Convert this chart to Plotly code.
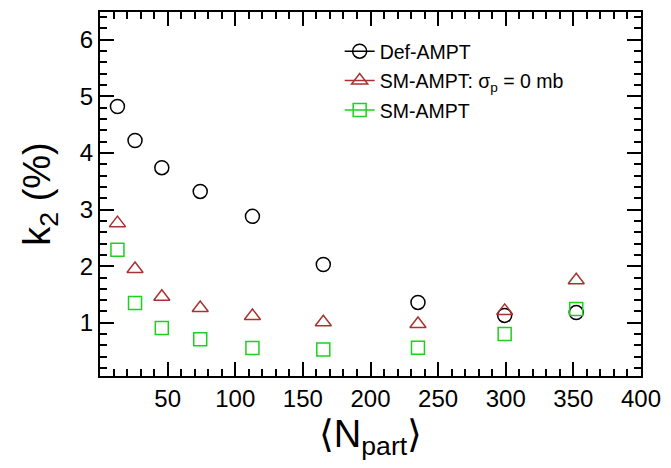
import plotly.graph_objects as go

npart = [12.9, 25.9, 45.7, 74.1, 112.7, 165.1, 235.1, 299.2, 352.1]
k2_def = [4.82, 4.22, 3.74, 3.32, 2.88, 2.03, 1.36, 1.13, 1.18]
k2_sm0 = [2.76, 1.95, 1.46, 1.26, 1.12, 1.01, 0.98, 1.21, 1.75]
k2_sm = [2.29, 1.35, 0.91, 0.71, 0.555, 0.53, 0.56, 0.80, 1.245]

names = ["Def-AMPT", "SM-AMPT: σ<sub>p</sub> = 0 mb", "SM-AMPT"]
colors = ["#000000", "#a83232", "#1ed01e"]
symbols = ["circle-open", "triangle-up-open", "square-open"]
sizes = [14, 14, 13]
series = [k2_def, k2_sm0, k2_sm]

FONT = "Liberation Sans, Arial, sans-serif"

fig = go.Figure()
for i, ys in enumerate(series):
    fig.add_trace(go.Scatter(
        x=npart, y=ys, mode="markers", showlegend=False,
        marker=dict(symbol=symbols[i], size=sizes[i], color=colors[i],
                    line=dict(width=1.5, color=colors[i])),
    ))
for i in range(3):
    fig.add_trace(go.Scatter(
        x=[None], y=[None], mode="lines+markers", name=names[i],
        legendgroup=f"g{i}",
        line=dict(color=colors[i], width=1.5),
        marker=dict(symbol=symbols[i], size=sizes[i], color=colors[i],
                    line=dict(width=1.5, color=colors[i])),
    ))

axis_common = dict(
    showgrid=False, zeroline=False, showline=True, linecolor="black",
    linewidth=2, mirror="ticks", ticks="inside", ticklen=14, tickwidth=1.5,
    tickcolor="black", tickfont=dict(family=FONT, size=24, color="black"),
)

fig.update_xaxes(
    range=[0, 400], tickmode="array", tickvals=[50, 100, 150, 200, 250, 300, 350, 400],
    minor=dict(tickmode="linear", tick0=0, dtick=10, ticks="inside", ticklen=7,
               tickwidth=1.5, tickcolor="black"),
    title=dict(text="⟨N<sub>part</sub>⟩", font=dict(family=FONT, size=38, color="black"),
               standoff=10),
    **axis_common,
)
fig.update_yaxes(
    range=[0.06, 6.49], tickmode="linear", tick0=0, dtick=1,
    minor=dict(tickmode="linear", tick0=0, dtick=0.2, ticks="inside", ticklen=7,
               tickwidth=1.5, tickcolor="black"),
    title=dict(text="k<sub>2</sub> (%)", font=dict(family=FONT, size=38, color="black"),
               standoff=18),
    **axis_common,
)

fig.update_layout(
    width=671, height=468,
    margin=dict(l=100, r=26, t=10, b=92),
    paper_bgcolor="white", plot_bgcolor="white",
    font=dict(family=FONT, color="black"),
    legend=dict(x=0.443, y=0.945, xanchor="left", yanchor="top",
                font=dict(family=FONT, size=19.5, color="black"),
                bgcolor="rgba(0,0,0,0)", itemwidth=30, tracegroupgap=1),
)

fig.write_html("out.html")
